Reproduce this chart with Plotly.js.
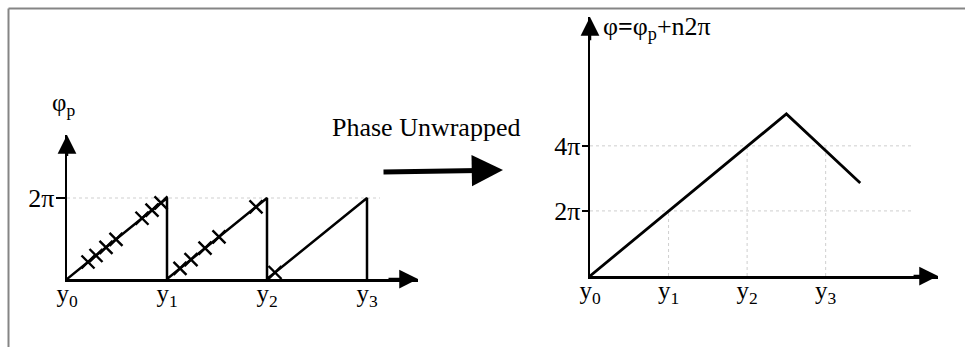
<!DOCTYPE html>
<html><head><meta charset="utf-8">
<script src="https://cdn.plot.ly/plotly-3.0.1.min.js"></script>
<style>html,body{margin:0;padding:0;background:#fff;overflow:hidden}</style>
</head><body><div id="chart" style="width:965px;height:347px"></div>
<script>
// ---- data (phase in units of 2π, position in units of the y-step) ----
const xTickVals = [0, 1, 2, 3];
const xTickText = ['y<sub>0</sub>', 'y<sub>1</sub>', 'y<sub>2</sub>', 'y<sub>3</sub>'];
const wrappedX = [0, 1, 1, 2, 2, 3, 3];
const wrappedY = [0, 1, 0, 1, 0, 1, 0];
const samplesX = [0.21, 0.29, 0.39, 0.49, 0.75, 0.85, 0.94, 1.13, 1.24, 1.38, 1.52, 1.89, 2.08];
const samplesY = [0.21, 0.29, 0.39, 0.49, 0.75, 0.85, 0.94, 0.13, 0.24, 0.38, 0.52, 0.89, 0.08];
const unwrappedX = [0, 2.5, 3.44];
const unwrappedY = [0, 2.49, 1.43];
const leftYTickVals = [1];
const leftYTickText = ['2π'];
const rightYTickVals = [1, 2];
const rightYTickText = ['2π', '4π'];
const rightVGridTop = [1, 2, 2]; // height of vertical guides at y1, y2, y3

const W = 965, H = 347;
const serif = 'Liberation Serif, Times New Roman, serif';
const px = v => v / W, py = v => (H - v) / H;

const traces = [
  {x: wrappedX, y: wrappedY, xaxis: 'x', yaxis: 'y', mode: 'lines', cliponaxis: false,
   line: {color: '#000', width: 2.5}, hoverinfo: 'skip'},
  {x: samplesX, y: samplesY, xaxis: 'x', yaxis: 'y', mode: 'markers', cliponaxis: false,
   marker: {symbol: 'x-thin-open', size: 13, color: '#000', line: {width: 2.4, color: '#000'}}, hoverinfo: 'skip'},
  {x: unwrappedX, y: unwrappedY, xaxis: 'x2', yaxis: 'y2', mode: 'lines', cliponaxis: false,
   line: {color: '#000', width: 2.8}, hoverinfo: 'skip'}
];

const axBase = {showgrid: false, zeroline: false, showline: true, linecolor: '#000', linewidth: 2.5,
  fixedrange: true};
const xTickFont = {family: serif, size: 25, color: '#000'};
const yTickFont = {family: serif, size: 26, color: '#000'};

const grid = {color: '#cfcfcf', width: 1, dash: 'dot'};
const shapes = [];
leftYTickVals.forEach(v => shapes.push({type: 'line', xref: 'x', yref: 'y', x0: 0, x1: 3.13, y0: v, y1: v, line: grid, layer: 'below'}));
rightYTickVals.forEach(v => shapes.push({type: 'line', xref: 'x2', yref: 'y2', x0: 0, x1: 4.1, y0: v, y1: v, line: grid, layer: 'below'}));
xTickVals.slice(1).forEach((v, i) => shapes.push({type: 'line', xref: 'x2', yref: 'y2', x0: v, x1: v, y0: 0, y1: rightVGridTop[i], line: grid, layer: 'below'}));
// frame
shapes.push({type: 'line', xref: 'paper', yref: 'paper', x0: px(8.5), x1: px(8.5), y0: 0, y1: py(8.5), line: {color: '#858585', width: 2}});
shapes.push({type: 'line', xref: 'paper', yref: 'paper', x0: px(8.5), x1: 1, y0: py(8.5), y1: py(8.5), line: {color: '#858585', width: 2}});

function axisArrow(xr, yr, x, y, ax, ay) {
  return {xref: xr, yref: yr, axref: xr, ayref: yr, x: x, y: y, ax: ax, ay: ay, text: '', showarrow: true,
    arrowhead: 2, arrowsize: 1.5, arrowwidth: 2.5, arrowcolor: '#000', standoff: 0};
}

const layout = {
  width: W, height: H, margin: {l: 0, r: 0, t: 0, b: 0}, showlegend: false,
  paper_bgcolor: '#fff', plot_bgcolor: 'rgba(0,0,0,0)',
  xaxis: Object.assign({}, axBase, {domain: [px(67), px(418)], range: [0, 3.51], tickvals: xTickVals, ticktext: xTickText,
    ticks: '', tickfont: xTickFont, ticklabelstandoff: -10, anchor: 'y'}),
  yaxis: Object.assign({}, axBase, {domain: [py(279), py(135)], range: [0, 1.778], tickvals: leftYTickVals, ticktext: leftYTickText,
    ticks: 'outside', ticklen: 9, tickwidth: 2, tickcolor: '#000', tickfont: yTickFont, ticklabelstandoff: -4, anchor: 'x'}),
  xaxis2: Object.assign({}, axBase, {domain: [px(590), px(938)], range: [0, 4.43], tickvals: xTickVals, ticktext: xTickText,
    ticks: '', tickfont: xTickFont, ticklabelstandoff: -10, anchor: 'y2'}),
  yaxis2: Object.assign({}, axBase, {domain: [py(276), py(17)], range: [0, 3.98], tickvals: rightYTickVals, ticktext: rightYTickText,
    ticks: 'outside', ticklen: 6, tickwidth: 2, tickcolor: '#000', tickfont: yTickFont, ticklabelstandoff: -4, anchor: 'x2'}),
  shapes: shapes,
  annotations: [
    axisArrow('x', 'y', 3.51, 0, 3.2, 0),
    axisArrow('x', 'y', 0, 1.778, 0, 1.5),
    axisArrow('x2', 'y2', 4.43, 0, 4.1, 0),
    axisArrow('x2', 'y2', 0, 3.98, 0, 3.6),
    {xref: 'paper', yref: 'paper', x: px(63), y: py(104), text: 'φ<sub>p</sub>', showarrow: false,
     xanchor: 'center', yanchor: 'middle', font: {family: serif, size: 25, color: '#000'}},
    {xref: 'paper', yref: 'paper', x: px(330), y: py(127), text: 'Phase Unwrapped', showarrow: false,
     xanchor: 'left', yanchor: 'middle', font: {family: serif, size: 26, color: '#000'}},
    {xref: 'paper', yref: 'paper', x: px(601), y: py(28), text: 'φ<b>=</b>φ<sub>p</sub>+n2π', showarrow: false,
     xanchor: 'left', yanchor: 'middle', font: {family: serif, size: 26, color: '#000'}},
    {xref: 'paper', yref: 'paper', x: px(503), y: py(170), ax: -121, ay: 2, text: '', showarrow: true,
     arrowhead: 2, arrowsize: 1.25, arrowwidth: 5, arrowcolor: '#000', standoff: 0}
  ]
};

Plotly.newPlot('chart', traces, layout, {staticPlot: true, displayModeBar: false});
</script>
</body></html>
